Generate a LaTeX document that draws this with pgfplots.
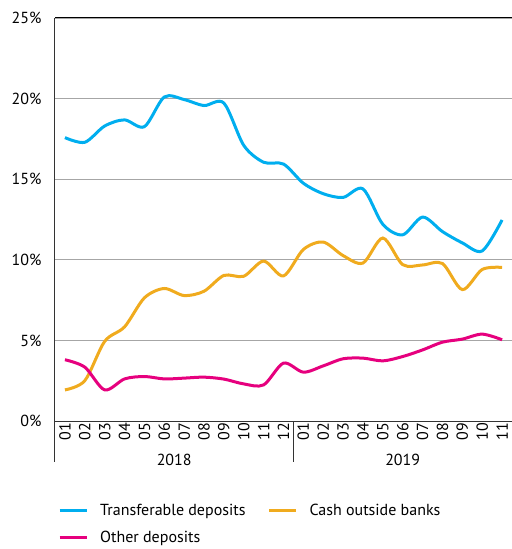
\documentclass[border=0pt]{standalone}
\usepackage{pgfplots}
\usepackage{pgfplotstable}
\pgfplotsset{compat=1.18}
\usepackage{fontspec}
\setmainfont{PT Sans}
\definecolor{cblue}{HTML}{00AEEF}
\definecolor{corange}{HTML}{F0AB1E}
\definecolor{cpink}{HTML}{E6007E}
\pgfplotstableread{
x transf cash other
0 17.58 1.93 3.80
1 17.29 2.50 3.34
2 18.30 4.94 1.93
3 18.68 5.84 2.61
4 18.26 7.64 2.76
5 20.10 8.22 2.61
6 19.94 7.78 2.66
7 19.57 8.05 2.72
8 19.72 9.03 2.60
9 17.10 8.98 2.30
10 16.05 9.92 2.24
11 15.94 9.00 3.59
12 14.75 10.64 3.03
13 14.10 11.10 3.42
14 13.87 10.26 3.86
15 14.40 9.80 3.90
16 12.20 11.35 3.73
17 11.55 9.70 4.00
18 12.65 9.68 4.41
19 11.75 9.77 4.89
20 11.05 8.15 5.08
21 10.55 9.40 5.39
22 12.47 9.53 5.04
}\datatable
\begin{document}
\begin{tikzpicture}
\path[use as bounding box] (-55bp,-128bp) rectangle (457bp,421bp);
\begin{axis}[
  at={(0,0)}, anchor=south west,
  scale only axis, width=457bp, height=403bp,
  xmin=-0.5, xmax=22.5, ymin=0, ymax=25,
  xtick={0,...,22},
  xticklabels={01,02,03,04,05,06,07,08,09,10,11,12,01,02,03,04,05,06,07,08,09,10,11},
  ytick={0,5,10,15,20,25},
  yticklabels={0\%,5\%,10\%,15\%,20\%,25\%},
  major tick length=0pt,
  ymajorgrids, grid style={black!35, line width=0.8bp},
  axis x line*=bottom, axis y line*=left,
  axis line style={black!80, line width=1bp},
  clip=false,
  font=\fontsize{16bp}{19bp}\selectfont,
  xticklabel style={rotate=90, anchor=east, inner sep=2bp},
  yticklabel style={anchor=east, xshift=-10bp},
  legend columns=2,
  legend cell align=left,
  legend style={draw=none, fill=none, at={(0,0)}, anchor=north west,
    xshift=0bp, yshift=-79bp, row sep=10bp,
    font=\fontsize{16bp}{19bp}\selectfont,
    /tikz/every even column/.append style={column sep=20bp}},
  legend image code/.code={\draw[#1, line width=3bp] (0bp,0bp) -- (27bp,0bp); \path (37bp,0bp);},
]
\draw[black, line width=1bp] (rel axis cs:0,1) -- (rel axis cs:1,1);
\addplot[cblue, line width=3bp, smooth] table[x=x, y=transf] {\datatable};
\addlegendentry{Transferable deposits}
\addplot[corange, line width=3bp, smooth] table[x=x, y=cash] {\datatable};
\addlegendentry{Cash outside banks}
\addplot[cpink, line width=3bp, smooth] table[x=x, y=other] {\datatable};
\addlegendentry{Other deposits}
\draw[black!80, line width=1bp] (rel axis cs:0,0) -- ([yshift=-41bp]rel axis cs:0,0);
\draw[black!80, line width=1bp] (axis cs:11.5,0) -- ([yshift=-41bp]axis cs:11.5,0);
\node[anchor=center] at ([yshift=-39bp]axis cs:5.5,0) {2018};
\node[anchor=center] at ([yshift=-39bp]axis cs:17,0) {2019};
\end{axis}
\end{tikzpicture}
\end{document}
